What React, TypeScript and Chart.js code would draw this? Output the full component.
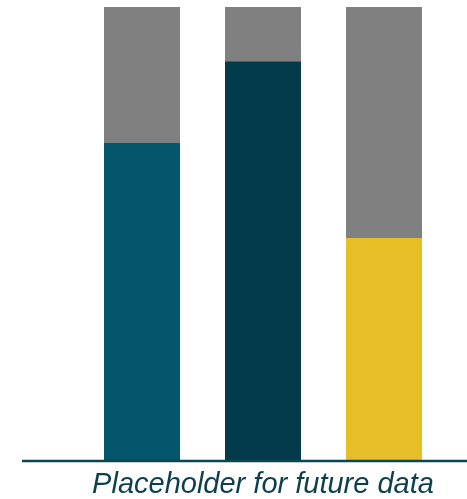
import React, { useEffect, useRef } from "react";
import { Chart, registerables } from "chart.js";

Chart.register(...registerables);

const categories = ["A", "B", "C"];
const dataValues = [70, 88, 49];
const remainderValues = [30, 12, 51];
const dataColors = ["#03566B", "#033B4A", "#E6BF27"];
const remainderColor = "#808080";
const axisTitle = "Placeholder for future data";

const baselinePlugin = {
  id: "baseline",
  afterDatasetsDraw(chart: any) {
    const { ctx, chartArea } = chart;
    ctx.save();
    ctx.strokeStyle = "#0C4553";
    ctx.lineWidth = 2.5;
    ctx.beginPath();
    ctx.moveTo(22, chartArea.bottom + 1);
    ctx.lineTo(chart.width, chartArea.bottom + 1);
    ctx.stroke();
    ctx.restore();
  },
};

export default function App() {
  const ref = useRef<HTMLCanvasElement>(null);
  useEffect(() => {
    if (!ref.current) return;
    const chart = new Chart(ref.current, {
      type: "bar",
      data: {
        labels: categories,
        datasets: [
          {
            data: dataValues,
            backgroundColor: dataColors,
            stack: "s",
          },
          {
            data: remainderValues,
            backgroundColor: remainderColor,
            stack: "s",
          },
        ],
      },
      options: {
        animation: false,
        responsive: false,
        devicePixelRatio: 1,
        layout: { padding: { left: 81.5, right: 22.5, top: 7, bottom: 0 } },
        plugins: { legend: { display: false }, tooltip: { enabled: false } },
        scales: {
          x: {
            stacked: true,
            grid: { display: false, drawTicks: false },
            border: { display: false },
            ticks: { display: false },
            title: {
              display: true,
              text: axisTitle,
              color: "#0D3F4D",
              font: { family: "Liberation Sans", size: 29, style: "italic", lineHeight: 1 },
              padding: { top: 10, bottom: 0 },
            },
          },
          y: {
            stacked: true,
            display: false,
            min: 0,
            max: 100,
          },
        },
        datasets: {
          bar: { barPercentage: 1, categoryPercentage: 0.628 },
        },
      } as any,
      plugins: [baselinePlugin],
    });
    return () => chart.destroy();
  }, []);
  return (
    <div style={{ position: "fixed", left: 0, top: 0, width: 467, height: 499, background: "#fff" }}>
      <canvas ref={ref} width={467} height={499} style={{ display: "block" }} />
    </div>
  );
}
